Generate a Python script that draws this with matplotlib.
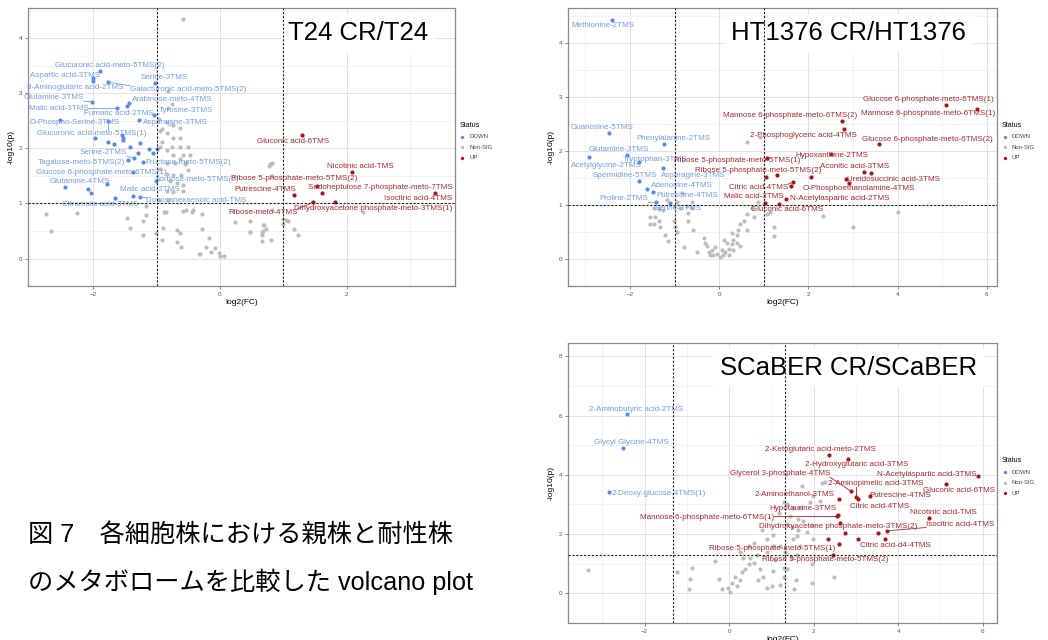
import numpy as np
import matplotlib as mpl
mpl.use('Agg')
import matplotlib.pyplot as plt

# ---- T24 CR / T24 ----
t24_ns_x = [-0.59, -2.74, -2.66, -2.26, -1.46, -1.42, -1.22, -1.22, -1.16, -1.01, -0.92, -0.90, -0.88, -0.85,
            -0.67, -0.63, -0.61, -0.67, -0.59, -0.53, -0.44, -0.42, -0.29, -0.29, -0.18, -0.33, -0.31, -0.22,
            -0.14, -0.08, -0.01, 0.00, 0.07, 0.24, 0.47, 0.48, 0.70, 0.68, 0.67, 0.80, 0.83, 0.79, 0.82,
            -0.91, -0.95, -0.84, -0.74, -0.63, -0.91, -0.95, -0.84, -0.76, -0.63, -0.50, -0.74, -0.58, -0.47,
            -0.63, -0.84, -0.71, -0.55, -0.95, -0.84, -0.74, -0.61, -0.50, -0.79, -0.68, -0.84, -0.74, -0.58,
            -0.96, -0.82, -1.16, -0.58, -0.82, -0.76, -0.82, -0.96, -0.84, -0.74, -0.63, -0.53,
            0.48, 0.68, 0.73, 0.66, 0.67, 1.00, 1.04, 1.08, 1.00, 1.17, 1.24, 0.81, 0.78, 0.83, 2.26]
t24_ns_y = [4.34, 0.81, 0.50, 0.83, 0.73, 0.56, 0.68, 0.43, 0.79, 0.47, 0.34, 0.56, 0.85, 0.85,
            0.51, 0.46, 0.21, 0.30, 0.86, 0.88, 0.84, 0.88, 0.81, 0.54, 0.37, 0.09, 0.09, 0.21,
            0.11, 0.19, 0.10, 0.05, 0.05, 0.66, 0.49, 0.68, 0.61, 0.50, 0.32, 0.33, 0.88, 1.71, 1.74,
            2.35, 2.31, 2.28, 2.19, 2.19, 2.11, 2.02, 1.97, 2.02, 2.02, 2.02, 1.88, 1.88, 1.88,
            1.80, 1.74, 1.74, 1.71, 1.63, 1.54, 1.51, 1.51, 1.60, 1.40, 1.37, 1.23, 1.20, 1.23,
            1.07, 1.06, 0.95, 1.34, 3.04, 2.81, 2.73, 2.54, 2.47, 2.42, 2.36, 1.74,
            0.49, 0.60, 0.54, 0.49, 0.43, 0.71, 0.69, 0.68, 0.62, 0.53, 0.43, 1.71, 1.67, 1.50, 0.84]

t24_down_name = ['Glucuronic acid-meto-5TMS(2)', 'Aspartic acid-3TMS', '3-Aminoglutaric acid-2TMS', 'Serine-3TMS',
                 'Galacturonic acid-meto-5TMS(2)', 'Glutamine-3TMS', 'Arabinose-meto-4TMS', 'Malic acid-3TMS',
                 'Fumaric acid-2TMS', 'Tyrosine-3TMS', 'O-Phospho-Serine-3TMS', 'Asparagine-3TMS',
                 'Glucuronic acid-meto-5TMS(1)', 'Serine-2TMS', 'Tagatose-meto-5TMS(2)', 'Fructose-meto-5TMS(2)',
                 'Glucose 6-phosphate-meto-6TMS(1)', 'Sorbose-meto-5TMS(2)', 'Glutamine-4TMS', 'Malic acid-2TMS',
                 'Docosahexaenoic acid-TMS', 'Citramalic acid-3TMS',
                 '', '', '', '', '', '', '', '', '', '', '', '', '', '', '']
t24_down_x = [-1.89, -2.01, -2.01, -1.02, -1.76, -2.02, -1.44, -1.62, -1.46, -1.04, -2.53, -1.27, -1.76, -1.35,
              -1.45, -1.22, -1.37, -1.01, -2.44, -1.38, -1.26, -1.65,
              -1.97, -1.77, -1.67, -1.54, -1.53, -1.53, -1.26, -1.42, -1.12, -1.06, -1.00, -1.29, -2.08, -2.04, -1.78]
t24_down_y = [3.41, 3.28, 3.22, 3.18, 3.20, 2.84, 2.83, 2.74, 2.76, 2.60, 2.52, 2.51, 2.49, 1.82,
              1.78, 1.76, 1.57, 1.41, 1.29, 1.14, 1.11, 1.10,
              2.18, 2.11, 2.08, 2.25, 2.19, 2.15, 2.10, 2.02, 1.98, 1.91, 1.99, 1.92, 1.27, 1.19, 1.36]
t24_down_lx = [-1.74, -2.45, -2.29, -0.88, -0.50, -2.63, -0.75, -2.55, -1.59, -0.53, -2.29, -0.71, -2.03, -1.84,
               -2.18, -0.50, -1.87, -0.37, -2.21, -1.11, -0.37, -1.89]
t24_down_ly = [3.50, 3.32, 3.10, 3.28, 3.07, 2.92, 2.89, 2.72, 2.64, 2.69, 2.46, 2.46, 2.27, 1.92,
               1.75, 1.75, 1.57, 1.43, 1.39, 1.25, 1.06, 0.98]

t24_up_name = ['Gluconic acid-6TMS', 'Nicotinic acid-TMS', 'Ribose 5-phosphate-meto-5TMS(2)',
               'Sedoheptulose 7-phosphate-meto-7TMS', 'Putrescine-4TMS', 'Isocitric acid-4TMS',
               'Ribose-meto-4TMS', 'Dihydroxyacetone phosphate-meto-3TMS(1)']
t24_up_x = [1.29, 2.08, 1.54, 1.61, 1.17, 3.40, 1.47, 1.82]
t24_up_y = [2.24, 1.57, 1.32, 1.18, 1.16, 1.19, 1.02, 1.03]
t24_up_lx = [1.16, 2.22, 1.18, 2.54, 0.71, 3.13, 0.68, 2.42]
t24_up_ly = [2.12, 1.67, 1.46, 1.29, 1.26, 1.09, 0.84, 0.90]

# ---- HT1376 CR / HT1376 ----
ht_ns_x = [-1.47, -1.36, -1.25, -1.55, -1.43, -1.36, -1.47, -1.32, -1.21, -1.14, -1.02, -0.99, -0.95, -0.87,
           -0.84, -0.72, -0.69, -0.69, -0.58, -0.80, -0.50, -1.17, -1.55, -0.95, -0.61, -0.61,
           -0.35, -0.28, -0.24, -0.16, -0.13, -0.05, 0.02, 0.08, 0.13, 0.21, 0.28, 0.17, 0.32, 0.40, 0.43,
           0.47, 0.55, 0.40, 0.28, 0.62, 0.73, 0.77, 0.88, 0.62, 0.92, 1.14, 1.22, 1.23, 1.07,
           -0.09, 0.06, -0.20, 0.32, 0.21, 0.47, -0.31, 0.10, 0.62, 2.32, 3.00, 4.00]
ht_ns_y = [0.94, 0.93, 0.90, 0.77, 0.78, 0.71, 0.64, 0.60, 0.45, 0.33, 0.71, 0.59, 0.51, 0.94,
           1.22, 0.99, 0.85, 0.71, 0.53, 0.22, 0.13, 1.10, 0.64, 1.06, 1.06, 0.94,
           0.39, 0.24, 0.13, 0.16, 0.07, 0.10, 0.04, 0.08, 0.13, 0.19, 0.27, 0.30, 0.36, 0.45, 0.53,
           0.64, 0.71, 0.30, 0.48, 0.83, 0.94, 0.77, 1.06, 2.16, 2.26, 0.88, 0.59, 0.42, 0.83,
           0.22, 0.16, 0.07, 0.16, 0.07, 0.24, 0.30, 0.36, 0.53, 0.80, 0.59, 0.87]

ht_down_name = ['Methionine-2TMS', 'Guanosine-5TMS', 'Phenylalanine-2TMS', 'Glutamine-3TMS', 'Acetylglycine-2TMS',
                'Tryptophan-3TMS', 'Spermidine-5TMS', 'Asparagine-3TMS', 'Adenosine-4TMS', 'Putrescine-4TMS',
                'Proline-2TMS', 'Serine-3TMS']
ht_down_x = [-2.41, -2.48, -1.23, -2.06, -2.93, -1.79, -1.79, -1.26, -1.62, -1.49, -1.41, -1.11]
ht_down_y = [4.42, 2.34, 2.12, 1.92, 1.89, 1.80, 1.45, 1.68, 1.30, 1.25, 1.06, 1.04]
ht_down_lx = [-2.61, -2.62, -1.02, -2.26, -2.53, -1.45, -2.11, -0.58, -0.84, -0.72, -2.14, -0.91]
ht_down_ly = [4.33, 2.44, 2.23, 2.03, 1.74, 1.84, 1.55, 1.55, 1.36, 1.17, 1.12, 0.93]

ht_up_name = ['Glucose 6-phosphate-meto-6TMS(1)', 'Mannose 6-phosphate-meto-6TMS(1)',
              'Mannose 6-phosphate-meto-6TMS(2)', '2-Phosphoglyceric acid-4TMS',
              'Glucose 6-phosphate-meto-6TMS(2)', 'Hypoxanthine-2TMS', 'Ribose 5-phosphate-meto-5TMS(1)',
              'Aconitic acid-3TMS', 'Ribose 5-phosphate-meto-5TMS(2)', 'Ureidosuccinic acid-3TMS',
              'O-Phosphoethanolamine-4TMS', 'Citric acid-4TMS', 'Malic acid-3TMS', 'N-Acetylaspartic acid-2TMS',
              'Gluconic acid-6TMS', '', '', '', '']
ht_up_x = [5.08, 5.78, 2.76, 2.80, 3.59, 2.50, 1.08, 3.24, 1.29, 3.40, 2.92, 1.65, 1.03, 1.50, 1.33,
           1.05, 2.06, 2.85, 1.61]
ht_up_y = [2.85, 2.78, 2.56, 2.40, 2.12, 1.94, 1.87, 1.62, 1.55, 1.59, 1.41, 1.42, 1.03, 1.12, 1.01,
           1.51, 1.51, 1.48, 1.35]
ht_up_lx = [4.69, 4.69, 1.59, 1.89, 4.66, 2.53, 0.40, 3.03, 0.88, 3.91, 3.12, 0.88, 0.77, 2.70, 1.52]
ht_up_ly = [2.95, 2.69, 2.66, 2.29, 2.21, 1.92, 1.83, 1.71, 1.64, 1.48, 1.30, 1.32, 1.15, 1.12, 0.91]

# ---- SCaBER CR / SCaBER ----
sc_ns_x = [-3.33, -1.24, -0.88, -0.92, -0.94, -0.33, -0.25, -0.17, -0.02, 0.06, 0.02, 0.14, 0.18, 0.26, 0.30,
           0.38, 0.46, 0.34, 0.50, 0.58, 0.65, 0.73, 0.81, 0.69, 0.89, 1.01, 1.05, 1.09, 1.21, 1.29, 1.36,
           1.48, 1.60, 0.77, 0.89, 1.05, 1.21, 1.36, 1.44, 1.36, 1.17, 1.29, 1.52, 1.64, 1.64, 1.52, 1.05,
           0.58, 0.46, 0.26, 0.89, 1.33,
           1.80, 1.72, 2.19, 2.27, 1.99, 1.91, 2.15, 1.68, 1.76, 1.96, 1.84, 1.48, 1.60, 1.99, 1.68, 1.96,
           1.59, 1.53, 1.96, 2.49, 1.29]
sc_ns_y = [0.80, 0.72, 0.87, 0.50, 0.16, 1.08, 0.50, 0.14, 0.19, 0.35, 0.05, 0.56, 0.24, 0.45, 0.72,
           0.82, 0.98, 1.19, 1.19, 1.03, 1.29, 0.82, 0.56, 0.45, 0.19, 0.24, 0.77, 1.14, 0.29, 0.56, 0.82,
           1.19, 1.29, 2.13, 1.82, 1.98, 1.61, 2.34, 2.61, 3.03, 2.71, 3.08, 2.87, 2.50, 2.13, 1.82, 1.61,
           1.71, 1.61, 1.40, 1.40, 1.40,
           8.04, 3.61, 3.71, 3.76, 3.29, 3.08, 3.13, 2.87, 2.45, 2.29, 2.08, 2.24, 1.92, 1.82, 1.61, 0.98,
           0.45, 0.16, 0.35, 0.54, 0.87]

sc_down_name = ['2-Aminobutyric acid-2TMS', 'Glycyl Glycine-4TMS', '2-Deoxy-glucose-4TMS(1)']
sc_down_x = [-2.42, -2.52, -2.84]
sc_down_y = [6.05, 4.90, 3.42]
sc_down_lx = [-2.19, -2.30, -1.67]
sc_down_ly = [6.21, 5.10, 3.38]

sc_up_name = ['2-Ketoglutaric acid-meto-2TMS', '2-Hydroxyglutaric acid-3TMS', 'Glycerol 3-phosphate-4TMS',
              'N-Acetylaspartic acid-3TMS', 'Gluconic acid-6TMS', '2-Aminopimelic acid-3TMS', 'Putrescine-4TMS',
              '2-Aminoethanol-3TMS', 'Citric acid-4TMS', 'Hypotaurine-3TMS', 'Mannose 6-phosphate-meto-6TMS(1)',
              'Nicotinic acid-TMS', 'Isocitric acid-4TMS', 'Dihydroxyacetone phosphate-meto-3TMS(2)',
              'Citric acid-d4-4TMS', 'Ribose 5-phosphate-meto-5TMS(1)', 'Ribose 5-phosphate-meto-5TMS(2)',
              '', '', '', '']
sc_up_x = [2.37, 2.82, 2.88, 5.90, 5.14, 3.01, 3.34, 2.59, 3.04, 2.57, 2.55, 4.72, 3.73, 3.53, 3.69, 2.59, 2.47,
           2.63, 2.35, 3.04, 2.75]
sc_up_y = [4.66, 4.55, 3.45, 3.97, 3.69, 3.24, 3.27, 3.19, 3.19, 2.64, 2.61, 2.53, 2.11, 2.03, 1.82, 1.66, 1.31,
           2.37, 1.84, 1.84, 2.03]
sc_up_lx = [2.15, 3.02, 1.21, 4.68, 5.43, 3.48, 4.05, 1.56, 3.57, 1.76, -0.53, 5.07, 5.47, 2.59, 3.93, 1.01, 2.27]
sc_up_ly = [4.87, 4.34, 4.03, 4.01, 3.48, 3.71, 3.29, 3.32, 2.92, 2.85, 2.56, 2.73, 2.34, 2.24, 1.63, 1.52, 1.14]

BLUE = '#5a8be6'
BLUE_TXT = '#6f9cec'
GREY = '#bdbdbd'
RED = '#a8161c'
RED_TXT = '#b0252b'

plt.rcParams['font.family'] = ['Liberation Sans', 'DejaVu Sans']
fig = plt.figure(figsize=(10.48, 6.4), dpi=100)

all_labels = []


def panel(rect, title, title_x, xlim, ylim, xticks, yticks, fc_cut, p_cut,
          ns, down, up):
    ax = fig.add_axes(rect)
    ax.set_xlim(*xlim)
    ax.set_ylim(*ylim)
    ax.set_xticks(xticks)
    ax.set_yticks(yticks)
    ax.set_xticks(np.arange(xticks[0] - (xticks[1] - xticks[0]) / 2, xlim[1], (xticks[1] - xticks[0]) / 2), minor=True)
    ax.set_yticks(np.arange(yticks[0] - (yticks[1] - yticks[0]) / 2, ylim[1], (yticks[1] - yticks[0]) / 2), minor=True)
    ax.grid(True, which='major', color='#e3e3e3', lw=0.7)
    ax.grid(True, which='minor', color='#efefef', lw=0.5)
    ax.set_axisbelow(True)
    for s in ax.spines.values():
        s.set_color('#8a8a8a')
        s.set_linewidth(0.9)
    ax.tick_params(which='major', length=2, width=0.5, color='#555555', labelsize=4.5,
                   labelcolor='#555555', pad=2)
    ax.tick_params(which='minor', length=0)
    ax.set_xlabel('log2(FC)', fontsize=6, labelpad=2)
    ax.set_ylabel('-log10(p)', fontsize=6, labelpad=3)

    dash = dict(color='#222222', lw=0.8, ls=(0, (2, 1.5)), zorder=6)
    ax.axvline(-fc_cut, **dash)
    ax.axvline(fc_cut, **dash)
    ax.axhline(p_cut, **dash)

    ax.scatter(down[1], down[2], s=9, color=BLUE, lw=0, label='DOWN', zorder=3)
    ax.scatter(ns[0], ns[1], s=9, color=GREY, lw=0, label='Non-SIG', zorder=2)
    ax.scatter(up[1], up[2], s=9, color=RED, lw=0, label='UP', zorder=3)

    for grp, col in ((down, BLUE_TXT), (up, RED_TXT)):
        names, xs, ys, lxs, lys = grp
        for n, x, y, lx, ly in zip(names, xs, ys, lxs, lys):
            if not n:
                continue
            t = ax.text(lx, ly, n, fontsize=5.8, color=col, ha='center', va='center', zorder=4)
            all_labels.append((ax, t, x, y, col))

    ax.text(title_x, 0.91, title, transform=ax.transAxes, fontsize=18.5, ha='center', va='center',
            zorder=5, bbox=dict(facecolor='white', edgecolor='none', pad=5))

    leg = ax.legend(loc='upper left', bbox_to_anchor=(1.005, 0.6), frameon=False, title='Status',
                    fontsize=4.3, title_fontsize=5, markerscale=0.8, handletextpad=0.6,
                    labelspacing=0.9, handlelength=1.0, borderaxespad=0)
    leg._legend_box.align = 'left'
    for txt in leg.get_texts():
        txt.set_color('#444444')
    return ax


panel([0.0267, 0.553, 0.4074, 0.434], 'T24 CR/T24', 0.773, (-3.03, 3.71), (-0.17, 4.54),
      [-2, 0, 2], [0, 1, 2, 3, 4], 1.0, 1.0,
      (t24_ns_x, t24_ns_y),
      (t24_down_name, t24_down_x, t24_down_y, t24_down_lx, t24_down_ly),
      (t24_up_name, t24_up_x, t24_up_y, t24_up_lx, t24_up_ly))

panel([0.542, 0.553, 0.4094, 0.434], 'HT1376 CR/HT1376', 0.653, (-3.39, 6.23), (-0.21, 4.64),
      [-2, 0, 2, 4, 6], [0, 1, 2, 3, 4], 1.0, 1.0,
      (ht_ns_x, ht_ns_y),
      (ht_down_name, ht_down_x, ht_down_y, ht_down_lx, ht_down_ly),
      (ht_up_name, ht_up_x, ht_up_y, ht_up_lx, ht_up_ly))

panel([0.542, 0.0266, 0.4094, 0.4375], 'SCaBER CR/SCaBER', 0.653, (-3.81, 6.34), (-0.38, 8.45),
      [-2, 0, 2, 4, 6], [0, 2, 4, 6, 8], 1.32, 1.3,
      (sc_ns_x, sc_ns_y),
      (sc_down_name, sc_down_x, sc_down_y, sc_down_lx, sc_down_ly),
      (sc_up_name, sc_up_x, sc_up_y, sc_up_lx, sc_up_ly))

# connector segments from label box to its point (repel style)
fig.canvas.draw()
renderer = fig.canvas.get_renderer()
for ax, t, x, y, col in all_labels:
    bb = t.get_window_extent(renderer)
    px, py = ax.transData.transform((x, y))
    cx = min(max(px, bb.x0), bb.x1)
    cy = min(max(py, bb.y0), bb.y1)
    if np.hypot(px - cx, py - cy) > 5:
        ex, ey = ax.transData.inverted().transform((cx, cy))
        ax.plot([x, ex], [y, ey], color=col, lw=0.6, zorder=3)

# latin glyphs from Liberation Sans, Japanese from Noto Sans CJK
cap_font = ['Liberation Sans', 'Noto Sans CJK JP']
fig.text(0.027, 0.164, '図 7　各細胞株における親株と耐性株', fontsize=18.2, family=cap_font, va='center')
fig.text(0.027, 0.091, 'のメタボロームを比較した volcano plot', fontsize=18.2, family=cap_font, va='center')

fig.savefig('out.png', dpi=100)
